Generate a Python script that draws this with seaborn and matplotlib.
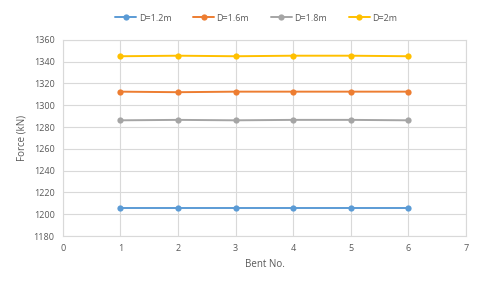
import matplotlib
matplotlib.use("Agg")
import matplotlib.pyplot as plt
import pandas as pd
import seaborn as sns

BENTS = [1, 2, 3, 4, 5, 6]
D_12 = [1205.5, 1205.5, 1205.5, 1205.5, 1205.5, 1205.5]
D_16 = [1312.5, 1312.0, 1312.5, 1312.5, 1312.5, 1312.5]
D_18 = [1286.2, 1286.6, 1286.2, 1286.6, 1286.6, 1286.2]
D_20 = [1345.0, 1345.5, 1345.0, 1345.5, 1345.5, 1345.0]
SERIES = ["D=1.2m", "D=1.6m", "D=1.8m", "D=2m"]
COLORS = ["#5B9BD5", "#ED7D31", "#A5A5A5", "#FFC000"]

df = pd.DataFrame({
    "bent": BENTS * 4,
    "force": D_12 + D_16 + D_18 + D_20,
    "series": sum([[s] * len(BENTS) for s in SERIES], []),
})

sns.set_theme(style="white")
plt.rcParams["font.family"] = ["Open Sans", "DejaVu Sans"]

fig = plt.figure(figsize=(4.8, 2.83), dpi=100)
ax = fig.add_axes([0.131, 0.166, 0.84, 0.693])

sns.lineplot(data=df, x="bent", y="force", hue="series", palette=COLORS,
             marker="o", markersize=4.5, markeredgewidth=0, linewidth=1.4, ax=ax)

ax.set_xlim(0, 7)
ax.set_ylim(1180, 1360)
ax.set_xticks(range(0, 8))
ax.set_yticks(range(1180, 1361, 20))
ax.grid(True, color="#d9d9d9", linewidth=0.8)
ax.set_axisbelow(True)
for side in ["top", "right", "left", "bottom"]:
    ax.spines[side].set_color("#d9d9d9")
    ax.spines[side].set_linewidth(0.8)
ax.tick_params(axis="both", length=0, labelsize=6.5, colors="#595959", pad=6)
ax.set_xlabel("Bent No.", fontsize=7, color="#595959")
ax.set_ylabel("Force (kN)", fontsize=7, color="#595959")

ax.legend(loc="center", bbox_to_anchor=(0.534, 0.936), bbox_transform=fig.transFigure,
          ncol=4, frameon=False, fontsize=6.5, handlelength=2.3, handletextpad=0.3,
          columnspacing=2.4, borderaxespad=0, borderpad=0)
for t in ax.get_legend().get_texts():
    t.set_color("#595959")

fig.savefig("out.png", dpi=100)
